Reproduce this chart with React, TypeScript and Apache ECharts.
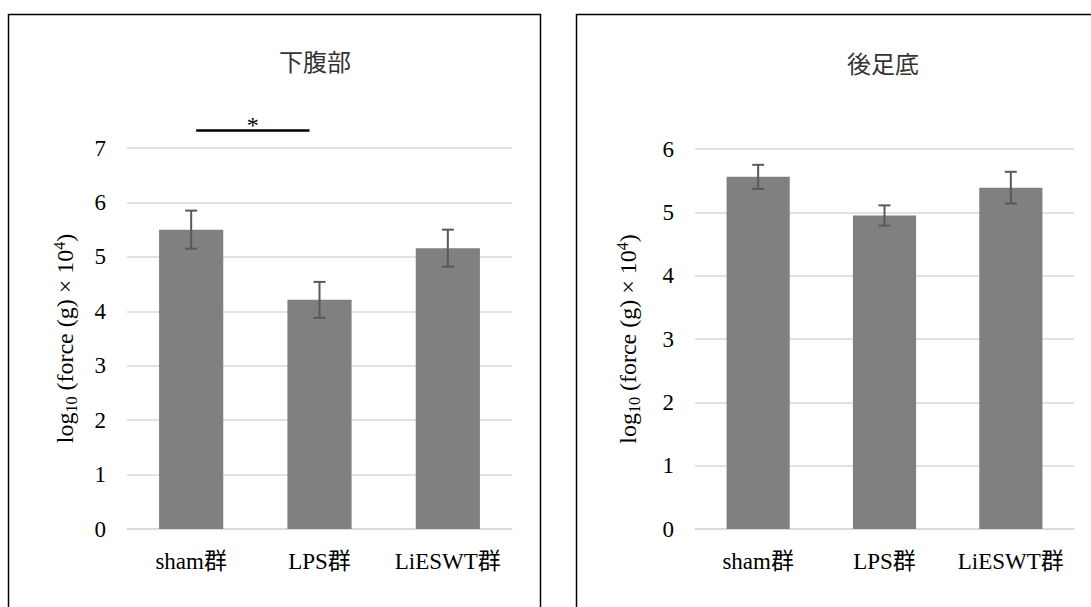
import React, { useEffect, useRef } from 'react';
import * as echarts from 'echarts';

const categories = ['sham群', 'LPS群', 'LiESWT群'];
const abdomenTitle = '下腹部';
const plantarTitle = '後足底';
const abdomenMeans = [5.5, 4.21, 5.16];
const abdomenErrors = [0.35, 0.33, 0.34];
const plantarMeans = [5.56, 4.95, 5.39];
const plantarErrors = [0.19, 0.16, 0.25];
const abdomenAxisMax = 7;
const plantarAxisMax = 6;
// significance bracket: [from category, to category, height value]
const abdomenSignificance = [[0, 1, 7.32]];

const SERIF = "'Liberation Serif', 'Times New Roman', 'Noto Sans CJK JP', serif";
const CJK = "'Noto Sans CJK JP', sans-serif";

const axisName = '{a|log}{b|10}{a| (force (g) × 10}{c|4}{a|)}';
const axisNameStyle = {
  fontFamily: SERIF,
  fontSize: 24,
  color: '#000',
  rich: {
    a: { fontFamily: SERIF, fontSize: 24, color: '#000', lineHeight: 28, verticalAlign: 'middle' },
    b: { fontFamily: SERIF, fontSize: 16, color: '#000', lineHeight: 15, verticalAlign: 'bottom' },
    c: { fontFamily: SERIF, fontSize: 16, color: '#000', lineHeight: 15, verticalAlign: 'top' },
  },
};

function errorData(means: number[], errs: number[]) {
  return means.map((m, i) => [i, m - errs[i], m + errs[i]]);
}

function errorRender(params: any, api: any) {
  const x = api.value(0);
  const top = api.coord([x, api.value(2)]);
  const bot = api.coord([x, api.value(1)]);
  const hw = 6;
  const style = { stroke: '#595959', lineWidth: 2 };
  return {
    type: 'group',
    children: [
      { type: 'line', shape: { x1: top[0], y1: top[1], x2: bot[0], y2: bot[1] }, style },
      { type: 'line', shape: { x1: top[0] - hw, y1: top[1], x2: top[0] + hw, y2: top[1] }, style },
      { type: 'line', shape: { x1: bot[0] - hw, y1: bot[1], x2: bot[0] + hw, y2: bot[1] }, style },
    ],
  };
}

function sigRender(params: any, api: any) {
  const p0 = api.coord([api.value(0), api.value(2)]);
  const p1 = api.coord([api.value(1), api.value(2)]);
  const x1 = p0[0] + 5;
  const x2 = p1[0] - 10;
  return {
    type: 'group',
    children: [
      { type: 'line', shape: { x1, y1: p0[1], x2, y2: p0[1] }, style: { stroke: '#000', lineWidth: 2.5 } },
      {
        type: 'text',
        x: (x1 + x2) / 2,
        y: p0[1] - 6,
        style: { text: '*', fontFamily: SERIF, fontSize: 24, fill: '#000', align: 'center', verticalAlign: 'middle' },
      },
    ],
  };
}

function makeX(gridIndex: number) {
  return {
    type: 'category',
    gridIndex,
    data: categories,
    axisLine: { show: true, lineStyle: { color: '#d9d9d9', width: 1.5 } },
    axisTick: { show: false },
    axisLabel: { interval: 0, color: '#000', fontFamily: SERIF, fontSize: 23, margin: 21 },
  };
}

function makeY(gridIndex: number, max: number, gap: number) {
  return {
    type: 'value',
    gridIndex,
    min: 0,
    max,
    interval: 1,
    name: axisName,
    nameLocation: 'middle',
    nameGap: gap,
    nameTextStyle: axisNameStyle,
    axisLine: { show: false },
    axisTick: { show: false },
    splitLine: { show: true, lineStyle: { color: '#d9d9d9', width: 1.5 } },
    axisLabel: { color: '#000', fontFamily: SERIF, fontSize: 23, margin: 21 },
  };
}

export default function App() {
  const ref = useRef<HTMLDivElement>(null);
  useEffect(() => {
    if (!ref.current) return;
    const chart = echarts.init(ref.current, undefined, { renderer: 'svg' });
    chart.setOption({
      animation: false,
      backgroundColor: '#fff',
      grid: [
        { left: 127, right: 1091 - 512, top: 148, bottom: 607 - 529 },
        { left: 695, right: 1091 - 1074, top: 149, bottom: 607 - 529 },
      ],
      xAxis: [makeX(0), makeX(1)],
      yAxis: [makeY(0, abdomenAxisMax, 48), makeY(1, plantarAxisMax, 53)],
      series: [
        { type: 'bar', xAxisIndex: 0, yAxisIndex: 0, data: abdomenMeans, barWidth: '50%', itemStyle: { color: '#808080' } },
        { type: 'bar', xAxisIndex: 1, yAxisIndex: 1, data: plantarMeans, barWidth: '50%', itemStyle: { color: '#808080' } },
        {
          type: 'custom', xAxisIndex: 0, yAxisIndex: 0, z: 3, clip: false,
          data: errorData(abdomenMeans, abdomenErrors), encode: { x: 0, y: [1, 2] }, renderItem: errorRender,
        },
        {
          type: 'custom', xAxisIndex: 1, yAxisIndex: 1, z: 3, clip: false,
          data: errorData(plantarMeans, plantarErrors), encode: { x: 0, y: [1, 2] }, renderItem: errorRender,
        },
        {
          type: 'custom', xAxisIndex: 0, yAxisIndex: 0, z: 3, clip: false,
          data: abdomenSignificance, encode: { x: [0, 1], y: 2 }, renderItem: sigRender,
        },
      ],
      graphic: [
        { type: 'rect', shape: { x: 8.5, y: 14.5, width: 532, height: 650 }, style: { fill: 'none', stroke: '#000', lineWidth: 1.5 }, z: 100 },
        { type: 'rect', shape: { x: 576.5, y: 14.5, width: 540, height: 650 }, style: { fill: 'none', stroke: '#000', lineWidth: 1.5 }, z: 100 },
        { type: 'text', x: 315, y: 60, style: { text: abdomenTitle, fontFamily: CJK, fontSize: 24, fill: '#333', align: 'center', verticalAlign: 'middle' } },
        { type: 'text', x: 883, y: 62, style: { text: plantarTitle, fontFamily: CJK, fontSize: 24, fill: '#333', align: 'center', verticalAlign: 'middle' } },
      ],
    });
    return () => chart.dispose();
  }, []);
  return <div ref={ref} style={{ position: 'fixed', left: 0, top: 0, width: 1091, height: 607 }} />;
}
